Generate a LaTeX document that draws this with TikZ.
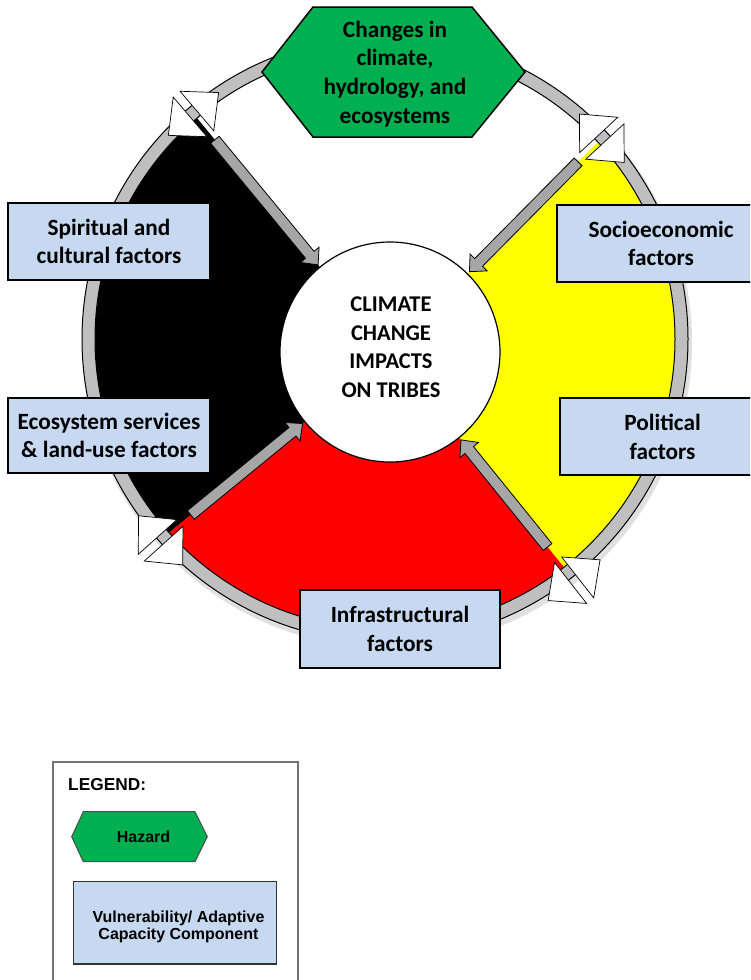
\documentclass[tikz,border=0pt]{standalone}
\usepackage{fontspec}
\setmainfont{Carlito}
\newfontfamily\legendfont{Liberation Sans}
\usetikzlibrary{calc}
\definecolor{ringgray}{RGB}{191,191,191}
\definecolor{arrowgray}{RGB}{166,166,166}
\definecolor{hexgreen}{RGB}{0,176,80}
\definecolor{boxblue}{RGB}{198,217,241}
\definecolor{myyellow}{RGB}{255,255,0}
\definecolor{myred}{RGB}{255,0,0}
\tikzset{
  blockarrow/.style={fill=arrowgray, draw=black, line width=0.8pt, line join=miter},
  tri/.style={fill=white, draw=black, line width=0.7pt, line join=miter},
  mainfont/.style={font=\bfseries\fontsize{23.3}{28.8}\selectfont},
  factorbox/.style={draw=black, line width=1.5pt, fill=boxblue, align=center, inner sep=0pt, mainfont},
  hexshape/.style={draw=black, line width=1.5pt, fill=hexgreen, line join=miter},
  legendtext/.style={font=\legendfont\bfseries\fontsize{16}{17.5}\selectfont, align=center},
}
\newcommand\blockarr[2]{%
  \coordinate (ba-n) at ($(#2)!13pt!(#1)$);
  \draw[blockarrow] ($(#1)!5.5pt!90:(#2)$) -- ($(ba-n)!5.5pt!90:(#2)$) -- ($(ba-n)!12pt!90:(#2)$) -- (#2)
    -- ($(ba-n)!12pt!-90:(#2)$) -- ($(ba-n)!5.5pt!-90:(#2)$) -- ($(#1)!5.5pt!-90:(#2)$) -- cycle;
}
\newcommand\tripair[3]{%
  \begin{scope}[shift={(#1)}, rotate=-#2]
    \draw[tri] (25+#3,-4.5) -- (-27+#3,-4.5) -- (-1+#3,-33) -- cycle;
    \draw[tri] (25+#3,4.5) -- (-27+#3,4.5) -- (-1+#3,33) -- cycle;
  \end{scope}
}
\begin{document}
\begin{tikzpicture}[x=1pt,y=-1pt]
\useasboundingbox (0,0) rectangle (750,980);
\clip (0,0) rectangle (750,980);

\coordinate (O) at (385,339);
\coordinate (C) at (390,352);
\coordinate (Rnw) at ($(O)+(229.6:290)$);
\coordinate (Rne) at ($(O)+(317.2:290)$);
\coordinate (Rse) at ($(O)+(51.9:290)$);
\coordinate (Rsw) at ($(O)+(138.1:290)$);
\coordinate (Mnw) at ($(O)+(229.6:296.5)$);
\coordinate (Mne) at ($(O)+(317.2:296.5)$);
\coordinate (Mse) at ($(O)+(51.9:296.5)$);
\coordinate (Msw) at ($(O)+(138.1:296.5)$);

% shadow
\fill[black!12] ($(O)+(2,4)$) circle (305pt);

% sectors
\begin{scope}
  \clip (O) circle (290pt);
  \fill[white] (O) circle (292pt);
  \fill[black] (C) -- ($(C)!3!(Rnw)$) -- (-1000,-1000) -- (-1000,1800) -- ($(C)!3!(Rsw)$) -- cycle;
  \fill[myyellow] (C) -- ($(C)!3!(Rne)$) -- (1800,-1000) -- (1800,1800) -- ($(C)!3!(Rse)$) -- cycle;
  \fill[myred] (C) -- ($(C)!3!(Rsw)$) -- (-1000,1800) -- (1800,1800) -- ($(C)!3!(Rse)$) -- cycle;
\end{scope}

% ring
\draw[fill=ringgray, even odd rule, line width=1pt] (O) circle (303pt) (O) circle (290pt);

% ring markers
\tripair{Mnw}{229.6}{0}
\tripair{Mne}{317.2}{0}
\tripair{Mse}{51.9}{11}
\tripair{Msw}{138.1}{6}

% centre circle
\node[circle, draw=black, line width=1.2pt, fill=white, minimum size=220pt, inner sep=0pt] (center) at (C) {};
\node[align=center, font=\bfseries\fontsize{22.5}{28.5}\selectfont] (centertext) at (391,347) {CLIMATE\\CHANGE\\IMPACTS\\ON TRIBES};

% arrows
\coordinate (Tnw) at ($(Rnw)!28pt!(C)$); \coordinate (Hnw) at ($(C)!113pt!(Rnw)$);
\coordinate (Tne) at ($(Rne)!28pt!(C)$); \coordinate (Hne) at ($(C)!113pt!(Rne)$);
\coordinate (Tse) at ($(Rse)!26pt!(C)$); \coordinate (Hse) at ($(C)!113pt!(Rse)$);
\coordinate (Tsw) at ($(Rsw)!28pt!(C)$); \coordinate (Hsw) at ($(C)!113pt!(Rsw)$);
\blockarr{Tnw}{Hnw}
\blockarr{Tne}{Hne}
\blockarr{Tse}{Hse}
\blockarr{Tsw}{Hsw}

% hazard hexagon
\draw[hexshape] (262,72) -- (313,7) -- (472,7) -- (525,72) -- (472,137) -- (313,137) -- cycle;
\node[mainfont, align=center] (hazard) at (395,74) {Changes in\\climate,\\hydrology, and\\ecosystems};

% factor boxes
\node[factorbox, minimum width=202pt, minimum height=77pt] (spirit) at (109,241.5) {Spiritual and\\cultural factors};
\node[factorbox, minimum width=208pt, minimum height=77pt] (socio) at (661,243.5) {Socioeconomic\\factors};
\node[factorbox, minimum width=202pt, minimum height=75pt] (eco) at (109,435.5) {Ecosystem services\\\& land-use factors};
\node[factorbox, minimum width=205pt, minimum height=77pt] (poli) at (662.5,436.5) {Political\\factors};
\node[factorbox, minimum width=200pt, minimum height=78pt] (infra) at (400,629) {Infrastructural\\factors};

% legend
\draw[draw=black!55, line width=1.5pt, fill=white] (53,762) rectangle (298,995);
\node[anchor=base west, font=\legendfont\bfseries\fontsize{17.3}{20}\selectfont, inner sep=0pt] (legendtitle) at (68,790) {LEGEND:};
\draw[draw=black!70, line width=1pt, fill=hexgreen, line join=miter] (71.7,836.7) -- (83.3,811.7) -- (195,811.7) -- (207.3,836.7) -- (195,861.7) -- (83.3,861.7) -- cycle;
\node[legendtext] (hazardlbl) at (143.5,837) {Hazard};
\draw[draw=black!80, line width=1.2pt, fill=boxblue] (73.3,881.7) rectangle (276.7,964);
\node[legendtext] (vulnlbl) at (178.5,927) {Vulnerability/ Adaptive\\Capacity Component};
\end{tikzpicture}
\end{document}
